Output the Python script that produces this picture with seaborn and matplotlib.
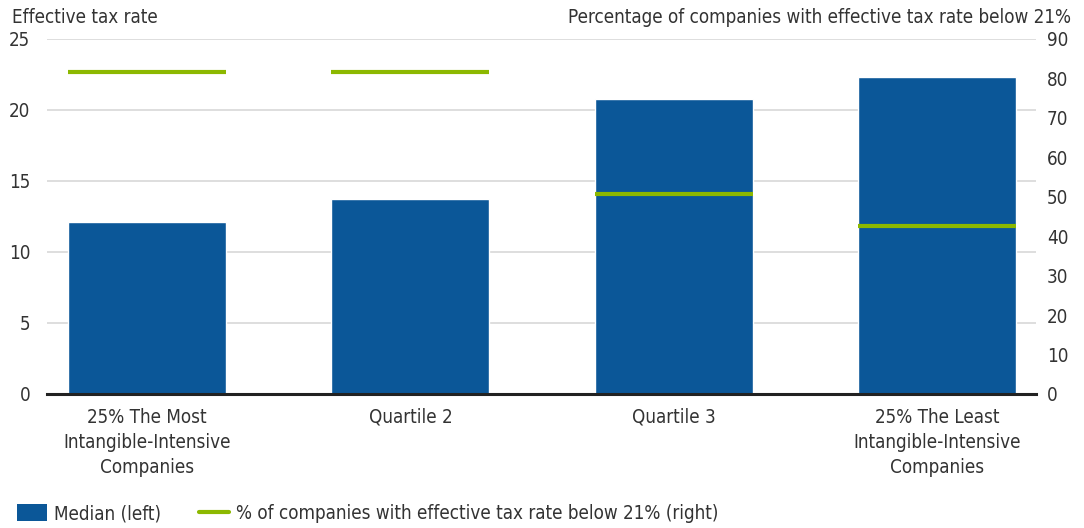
import pandas as pd
import matplotlib.pyplot as plt
import seaborn as sns
from matplotlib.patches import Patch
from matplotlib.lines import Line2D

# Values
categories = [
    "25% The Most\nIntangible-Intensive\nCompanies",
    "Quartile 2",
    "Quartile 3",
    "25% The Least\nIntangible-Intensive\nCompanies",
]
median_rate = [12.1, 13.7, 20.8, 22.3]
pct_below_21 = [81.7, 81.7, 50.8, 42.6]

BLUE = "#0b5798"
GREEN = "#8cb800"
TEXT = "#333333"
FS = 13.5


def make_frame():
    return pd.DataFrame({"group": categories, "median": median_rate, "pct": pct_below_21})


def draw(df):
    sns.set_theme(style="white")
    plt.rcParams["font.family"] = ["DejaVu Sans"]
    plt.rcParams["font.stretch"] = "condensed"
    plt.rcParams["text.color"] = TEXT

    fig = plt.figure(figsize=(10.84, 5.28), dpi=100)
    ax = fig.add_axes([0.0434, 0.2538, 0.9123, 0.6724])

    # Bars on the left axis
    sns.barplot(data=df, x="group", y="median", color=BLUE, saturation=1,
                width=0.6, ax=ax, zorder=2)
    ax.set_ylim(0, 25)
    ax.set_yticks([0, 5, 10, 15, 20, 25])
    ax.set_xlim(-0.38, 3.375)
    ax.grid(axis="y", color="#d8d8d8", linewidth=1.2, zorder=0)
    ax.set_axisbelow(True)
    for s in ["top", "right", "left"]:
        ax.spines[s].set_visible(False)
    ax.spines["bottom"].set_color("#222222")
    ax.spines["bottom"].set_linewidth(2.2)
    ax.set_xlabel("")
    ax.set_ylabel("")
    ax.tick_params(axis="y", length=0, pad=12, labelsize=FS, labelcolor=TEXT)
    ax.tick_params(axis="x", length=0, pad=10, labelsize=FS, labelcolor=TEXT)
    for lab in ax.get_xticklabels():
        lab.set_linespacing(1.4)

    # Share of companies on the right axis
    ax2 = ax.twinx()
    ax2.set_ylim(0, 90)
    ax2.set_yticks(range(0, 91, 10))
    ax2.hlines(df["pct"], [i - 0.3 for i in range(len(df))],
               [i + 0.3 for i in range(len(df))], color=GREEN, linewidth=3, zorder=3)
    for s in ["top", "right", "left", "bottom"]:
        ax2.spines[s].set_visible(False)
    ax2.tick_params(axis="y", length=0, pad=8, labelsize=FS, labelcolor=TEXT)
    ax2.grid(False)

    fig.text(0.011, 0.967, "Effective tax rate", fontsize=FS, va="center", ha="left")
    fig.text(0.988, 0.967, "Percentage of companies with effective tax rate below 21%",
             fontsize=FS, va="center", ha="right")

    handles = [
        Patch(facecolor=BLUE, edgecolor="none"),
        Line2D([0], [0], color=GREEN, linewidth=3),
    ]
    labels = ["Median (left)", "% of companies with effective tax rate below 21% (right)"]
    fig.legend(handles, labels, loc="lower left", bbox_to_anchor=(0.005, -0.012),
               ncol=2, frameon=False, fontsize=FS, handlelength=1.6, handleheight=1.0,
               handletextpad=0.4, columnspacing=2.0, borderaxespad=0.2)

    fig.savefig("out.png", dpi=100)


if __name__ == "__main__":
    draw(make_frame())
